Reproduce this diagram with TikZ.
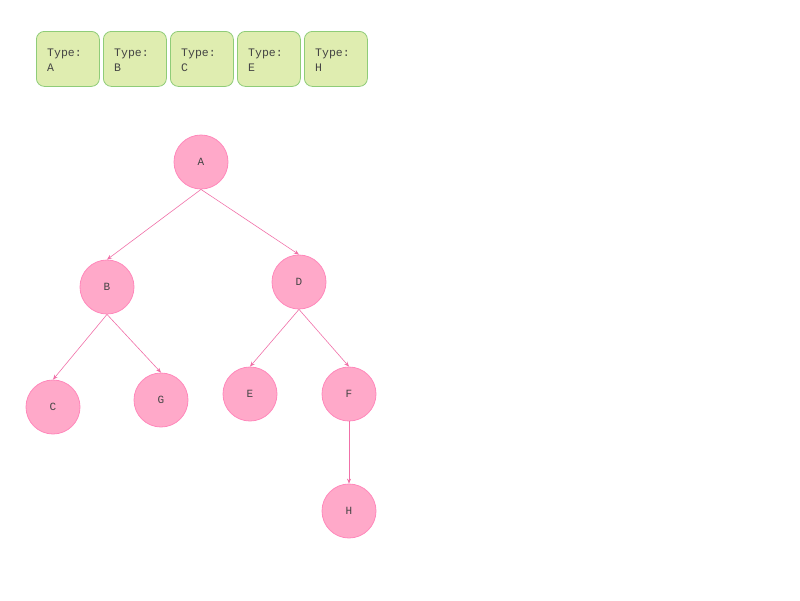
\documentclass[tikz,border=0pt]{standalone}
\usepackage{fontspec}
\setmonofont{Liberation Mono}
\usetikzlibrary{arrows.meta}
\definecolor{boxfill}{HTML}{DFEDB0}
\definecolor{boxline}{HTML}{8FCC78}
\definecolor{nodefill}{HTML}{FFA9C9}
\definecolor{nodeline}{HTML}{FF88BB}
\definecolor{edgecol}{HTML}{F070A8}
\definecolor{txt}{HTML}{444444}
\tikzset{
  typebox/.style={draw=boxline, fill=boxfill, rounded corners=8pt, minimum width=63pt, minimum height=55pt, inner sep=0pt, line width=0.8pt},
  typetext/.style={font=\ttfamily\fontsize{11.5}{15}\selectfont, text=txt, anchor=north west, align=left, inner sep=0pt},
  treenode/.style={circle, draw=nodeline, fill=nodefill, minimum size=54pt, inner sep=0pt, font=\ttfamily\fontsize{11}{12}\selectfont, text=txt, line width=0.8pt},
  edge/.style={draw=edgecol, line width=0.6pt, -{Stealth[length=5pt,width=4pt]}}
}
\begin{document}
\begin{tikzpicture}[x=1pt,y=-1pt]
\useasboundingbox (0,0) rectangle (800,600);
% type boxes
\foreach \xx/\lab/\nm in {36/A/ta,103/B/tb,170/C/tc,237/E/te,304/H/th}{
  \node[typebox, anchor=north west] (\nm) at (\xx,31) {};
  \node[typetext] at (\xx+11,48.5) {Type:\\\lab};
}
% tree nodes
\node[treenode] (A) at (201,162) {A};
\node[treenode] (B) at (107,287) {B};
\node[treenode] (D) at (299,282) {D};
\node[treenode] (C) at (53,407) {C};
\node[treenode] (G) at (161,400) {G};
\node[treenode] (E) at (250,394) {E};
\node[treenode] (F) at (349,394) {F};
\node[treenode] (H) at (349,511) {H};
\draw[edge] (A.south) -- (B.north);
\draw[edge] (A.south) -- (D.north);
\draw[edge] (B.south) -- (C.north);
\draw[edge] (B.south) -- (G.north);
\draw[edge] (D.south) -- (E.north);
\draw[edge] (D.south) -- (F.north);
\draw[edge] (F.south) -- (H.north);
\end{tikzpicture}
\end{document}
